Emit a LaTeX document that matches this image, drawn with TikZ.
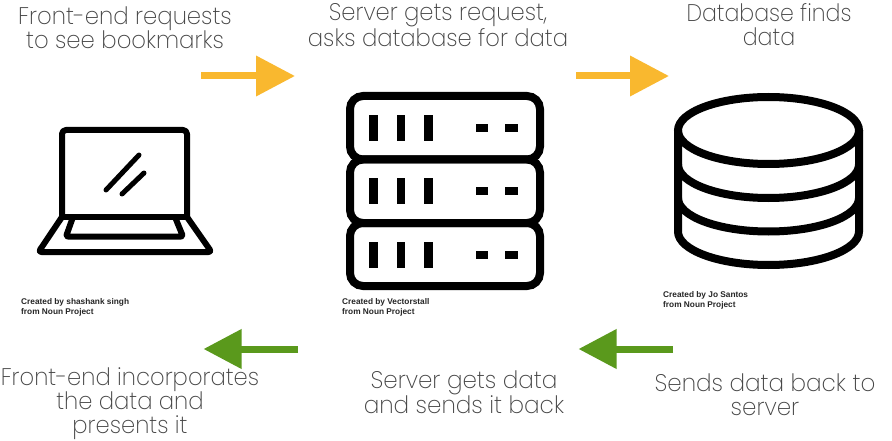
\documentclass[tikz,border=0pt]{standalone}
\usepackage{fontspec}
\setmainfont{Poppins}[UprightFont=* ExtraLight]
\newfontfamily\credfont{Liberation Sans}
\usetikzlibrary{arrows.meta}
\definecolor{arrowyellow}{HTML}{F9B82F}
\definecolor{arrowgreen}{HTML}{5A991C}
\definecolor{captiongray}{HTML}{444444}
\tikzset{
  x=1pt,y=-1pt,
  icon/.style={draw=black,line width=6pt,line join=round,line cap=round},
  servericon/.style={draw=black,line width=8pt,rounded corners=13pt},
  dbicon/.style={draw=black,line width=8pt},
  led/.style={fill=black},
  fwd/.style={draw=arrowyellow,line width=7pt,-{Triangle[length=39pt,width=39pt]}},
  backarrow/.style={draw=arrowgreen,line width=7pt,-{Triangle[length=38pt,width=38pt]}},
  captext/.style={text=captiongray,align=center,inner sep=0pt,font=\fontsize{24}{24}\selectfont,transform shape},
  credit/.style={text=black!85,align=left,anchor=north west,inner sep=0pt,font=\credfont\bfseries\fontsize{8.3}{9.4}\selectfont},
}
\begin{document}
\begin{tikzpicture}
\useasboundingbox[fill=white] (0,0) rectangle (892,441);
% laptop
\draw[icon,rounded corners=4pt] (62,217) -- (62,130) -- (187,130) -- (187,217);
\draw[icon] (62,217) -- (187,217);
\draw[icon,rounded corners=3pt] (62,217) -- (38.5,252) -- (211.5,252) -- (187,217);
\draw[icon,rounded corners=2pt] (73,217) -- (66,236.5) -- (183,236.5) -- (175,217);
\draw[icon,line width=5pt] (139,155) -- (106,190);
\draw[icon,line width=5pt] (144,173) -- (122,194);
% server
\foreach \t/\b in {96/159.5,159.5/223,223/286}{
  \draw[servericon] (350,\t) rectangle (540,\b);
}
\foreach \o in {0,63.3,126.6}{
  \foreach \l/\r in {369/378,397/405,424/433}{
    \fill[led] (\l,115+\o) rectangle (\r,141+\o);
  }
  \foreach \l/\r in {476/488,505/518}{
    \fill[led] (\l,124+\o) rectangle (\r,132+\o);
  }
}
% database
\draw[dbicon] (768.5,130.5) ellipse [x radius=90.5,y radius=33.5];
\draw[dbicon] (678,130.5) -- (678,231.5) arc [start angle=180,end angle=0,x radius=90.5,y radius=33.5] -- (859,130.5);
\draw[dbicon] (678,164.5) arc [start angle=180,end angle=0,x radius=90.5,y radius=33.5];
\draw[dbicon] (678,198) arc [start angle=180,end angle=0,x radius=90.5,y radius=33.5];
% captions
\node[captext,xscale=0.95] (c1) at (125,28) {Front-end requests\\to see bookmarks};
\node[captext,xscale=0.945] (c2) at (438,25) {Server gets request,\\asks database for data};
\node[captext,xscale=0.92] (c3) at (769,25) {Database finds\\data};
\node[captext,xscale=0.945] (c4) at (130,404) {Front-end incorporates\\the data and\\presents it};
\node[captext,xscale=0.96] (c5) at (464,392) {Server gets data\\and sends it back};
\node[captext,xscale=0.96] (c6) at (765,395) {Sends data back to\\server};
% credits
\node[credit] (n1) at (21,298.5) {Created by shashank singh\\from Noun Project};
\node[credit] (n2) at (342,298.5) {Created by Vectorstall\\from Noun Project};
\node[credit] (n3) at (663,291.5) {Created by Jo Santos\\from Noun Project};
% arrows
\coordinate (a1s) at (201,76); \coordinate (a1e) at (295,76);
\coordinate (a2s) at (576,76); \coordinate (a2e) at (669,76);
\coordinate (a3s) at (673,349); \coordinate (a3e) at (578.5,349);
\coordinate (a4s) at (298,349); \coordinate (a4e) at (203.5,349);
\draw[fwd] (a1s) -- (a1e);
\draw[fwd] (a2s) -- (a2e);
\draw[backarrow] (a3s) -- (a3e);
\draw[backarrow] (a4s) -- (a4e);
\end{tikzpicture}
\end{document}
